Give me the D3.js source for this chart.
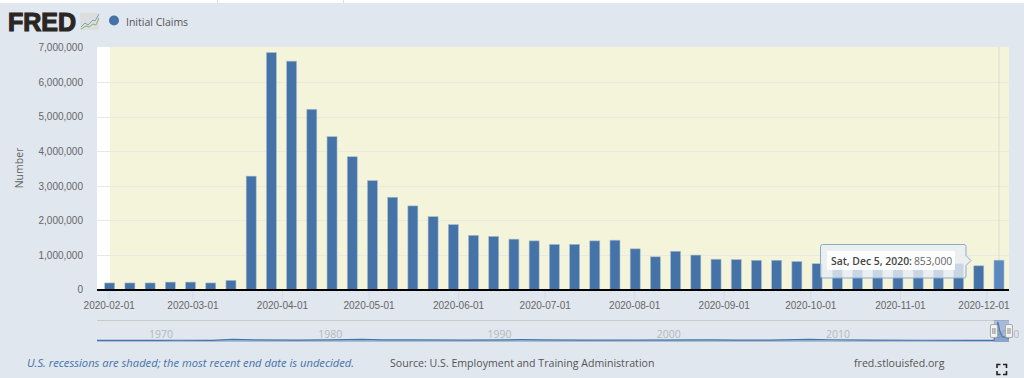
<!DOCTYPE html>
<html>
<head>
<meta charset="utf-8">
<script src="https://cdn.jsdelivr.net/npm/d3@7"></script>
<style>
  html, body { margin: 0; padding: 0; background: #e0e7ef; }
  svg { display: block; font-family: "Open Sans", sans-serif; }
</style>
</head>
<body>
<svg id="grafica" width="1024" height="378"></svg>
<script>
// semanas desde 2020-02-01 hasta 2020-12-05
firstWeek = new Date(Date.UTC(2020, 1, 1))
lastWeek = new Date(Date.UTC(2020, 11, 5))
claims = [
  195000, 195000, 195000, 220000, 220000, 195000, 270000, 3280000, 6850000,
  6600000, 5210000, 4420000, 3840000, 3150000, 2670000, 2420000, 2110000,
  1880000, 1570000, 1540000, 1460000, 1410000, 1310000, 1310000, 1410000,
  1430000, 1180000, 950000, 1110000, 1000000, 880000, 870000, 850000,
  850000, 815000, 750000, 770000, 760000, 765000, 750000, 755000, 725000,
  750000, 690000, 853000
]
yTicks = [0, 1000000, 2000000, 3000000, 4000000, 5000000, 6000000, 7000000]

// navegador: años según la posición en el dibujo, valores aproximados
navYears = [
  1966.22, 1968, 1969.8, 1971, 1973, 1974.25, 1975.5, 1978, 1980, 1981.9,
  1983, 1985, 1988, 1991.2, 1992.5, 1995, 1998, 2002.4, 2004, 2006, 2008.3,
  2009.5, 2012, 2015, 2018, 2019.21, 2019.45, 2019.55, 2019.7, 2019.85, 2020.1
]
navClaims = [
  210000, 200000, 230000, 270000, 240000, 560000, 400000, 340000, 430000,
  610000, 440000, 390000, 310000, 460000, 400000, 340000, 310000, 420000,
  340000, 320000, 600000, 450000, 350000, 270000, 215000, 200000, 6850000,
  3800000, 1550000, 1400000, 853000
]
navLabels = [1970, 1980, 1990, 2000, 2010, 2020]
navSelection = [2019.21, 2020.1]

plot = { left: 97, right: 1009, top: 47, bottom: 290, shadeLeft: 110 }
nav = { top: 320, bottom: 342 }
barWidth = 10

svg = d3.select('#grafica')
weeks = d3.utcSaturday.range(firstWeek, d3.utcDay.offset(lastWeek, 1))
data = weeks.map(function (d, i) { return { date: d, value: claims[i] } })

x = d3.scaleUtc().domain([firstWeek, lastWeek]).range([109.7, 999])
y = d3.scaleLinear().domain([0, 7000000]).range([plot.bottom - 0.3, plot.top + 0.3])
xNav = d3.scaleLinear().domain([1966.22, 2020.1]).range([plot.left, plot.right])
yNav = d3.scaleLinear().domain([0, 6850000]).range([nav.bottom - 1, nav.top + 2])

// franja blanca superior de la página
svg.append('rect').attr('width', 1024).attr('height', 3).attr('fill', '#fff')
svg.append('line').attr('x1', 217.5).attr('x2', 217.5).attr('y1', 0).attr('y2', 3).attr('stroke', '#ddd')
svg.append('line').attr('x1', 343.5).attr('x2', 343.5).attr('y1', 0).attr('y2', 3).attr('stroke', '#ddd')

// logo
logo = svg.append('g').attr('class', 'logo')
logo.append('text').attr('x', 8).attr('y', 30.5)
  .attr('textLength', 68).attr('lengthAdjust', 'spacingAndGlyphs')
  .style('font-family', '"Liberation Sans"').style('font-size', '25.5px')
  .style('font-weight', 700).style('stroke', '#2a2624').style('stroke-width', 1.2)
  .attr('fill', '#2a2624').text('FRED')
logo.append('rect').attr('x', 80).attr('y', 13).attr('width', 19).attr('height', 17)
  .attr('rx', 1).attr('fill', '#dcdedd')
logo.append('path').attr('d', 'M81 27 L85 23 L88 25 L93 20 L95 21 L99 14')
  .attr('fill', 'none').attr('stroke', '#7f9fc0').attr('stroke-width', 1)
logo.append('path').attr('d', 'M81 29 L86 26 L89 27 L93 24 L96 25 L99 18')
  .attr('fill', 'none').attr('stroke', '#8db36a').attr('stroke-width', 1)

// leyenda
svg.append('circle').attr('cx', 114).attr('cy', 20.5).attr('r', 5).attr('fill', '#4572a7')
svg.append('text').attr('x', 126).attr('y', 25.5)
  .attr('fill', '#555').style('font-size', '10.5px').text('Initial Claims')

// fondo del gráfico
svg.append('rect')
  .attr('x', plot.left).attr('y', plot.top)
  .attr('width', plot.right - plot.left).attr('height', plot.bottom - plot.top)
  .attr('fill', '#fff')
svg.append('rect')
  .attr('x', plot.shadeLeft).attr('y', plot.top)
  .attr('width', plot.right - plot.shadeLeft).attr('height', plot.bottom - plot.top)
  .attr('fill', '#f4f4da')

// eje y con rejilla
yAxis = svg.append('g')
  .attr('transform', 'translate(' + plot.left + ',0)')
  .call(d3.axisLeft(y).tickValues(yTicks).tickFormat(d3.format(',')).tickSize(0).tickPadding(14))
yAxis.select('.domain').remove()
yAxis.selectAll('text').attr('fill', '#666').style('font-size', '10px')
svg.append('g').selectAll('line.grid')
  .data(yTicks.slice(1, -1))
  .enter()
  .append('line')
  .attr('class', 'grid')
  .attr('x1', plot.left).attr('x2', plot.right)
  .attr('y1', function (d) { return Math.round(y(d)) + 0.5 })
  .attr('y2', function (d) { return Math.round(y(d)) + 0.5 })
  .attr('stroke', '#e9e9e2')

svg.append('text')
  .attr('transform', 'translate(23,168) rotate(-90)')
  .attr('text-anchor', 'middle').attr('fill', '#666')
  .style('font-size', '10.5px').text('Number')

// línea vertical del tooltip
svg.append('line')
  .attr('x1', x(lastWeek)).attr('x2', x(lastWeek))
  .attr('y1', plot.top).attr('y2', plot.bottom)
  .attr('stroke', '#dcdcd0')

// barras
svg.append('g').selectAll('rect.bar')
  .data(data)
  .enter()
  .append('rect')
  .attr('class', 'bar')
  .attr('x', function (d) { return x(d.date) - barWidth / 2 })
  .attr('width', barWidth)
  .attr('y', function (d) { return y(d.value) })
  .attr('height', function (d) { return y(0) - y(d.value) })
  .attr('fill', function (d, i) { return i == data.length - 1 ? '#5b88bd' : '#4572a7' })
  .attr('stroke', '#a9bfd2').attr('stroke-width', 0.6)

// eje x
months = d3.utcMonth.range(firstWeek, lastWeek)
xAxis = svg.append('g')
  .attr('transform', 'translate(-1,' + plot.bottom + ')')
  .call(d3.axisBottom(x).tickValues(months).tickFormat(d3.utcFormat('%Y-%m-%d')).tickSize(10).tickPadding(2))
xAxis.select('.domain').remove()
xAxis.selectAll('line').attr('stroke', '#cfdbe8')
xAxis.selectAll('text').attr('fill', '#666').style('font-size', '10px')
xAxis.selectAll('text').filter(function (d, i) { return i == months.length - 1 })
  .attr('dx', -3)

svg.append('line')
  .attr('x1', plot.left).attr('x2', plot.right)
  .attr('y1', plot.bottom).attr('y2', plot.bottom)
  .attr('stroke', '#000').attr('stroke-width', 2)

// tooltip
tipX = 820.5
tipY = 244.5
tip = svg.append('g')
tip.append('path')
  .attr('d', 'M' + (tipX + 2) + ' ' + tipY + ' H964 Q966 244.5 966 246.5 V255.5 L971 260.5 L966 265.5 V276 Q966 278 964 278 H' + (tipX + 2) +
    ' Q' + tipX + ' 278 ' + tipX + ' 276 V246.5 Q' + tipX + ' ' + tipY + ' ' + (tipX + 2) + ' ' + tipY + ' Z')
  .attr('fill', 'rgba(232,238,245,0.8)')
  .attr('stroke', '#8aaccb').attr('stroke-width', 1)
tip.append('rect').attr('x', 827).attr('y', 251).attr('width', 128).attr('height', 19)
  .attr('fill', '#fff').attr('fill-opacity', 0.9)
tipText = tip.append('text').attr('x', 831).attr('y', 264.5).style('font-size', '10.4px')
tipText.append('tspan').attr('fill', '#444').style('font-weight', 600).text('Sat, Dec 5, 2020:')
tipText.append('tspan').attr('fill', '#666').attr('dx', 2).text(d3.format(',')(claims[claims.length - 1]))

// navegador
svg.append('line')
  .attr('x1', plot.left).attr('x2', plot.right)
  .attr('y1', nav.top + 0.5).attr('y2', nav.top + 0.5)
  .attr('stroke', '#c8cbcc')
navG = svg.append('g')
navG.selectAll('text')
  .data(navLabels)
  .enter()
  .append('text')
  .attr('x', function (d) { return xNav(d) })
  .attr('y', 338)
  .attr('text-anchor', 'middle')
  .attr('fill', '#b4b8bb')
  .style('font-size', '10.5px')
  .text(function (d) { return d })

navPoints = navYears.map(function (d, i) { return [d, navClaims[i]] })
navG.append('path')
  .attr('d', d3.area()
    .x(function (d) { return xNav(d[0]) })
    .y0(nav.bottom)
    .y1(function (d) { return yNav(d[1]) })(navPoints))
  .attr('fill', '#4572a7').attr('fill-opacity', 0.35)
navG.append('path')
  .attr('d', d3.line()
    .x(function (d) { return xNav(d[0]) })
    .y(function (d) { return yNav(d[1]) })(navPoints))
  .attr('fill', 'none').attr('stroke', '#4572a7').attr('stroke-width', 1.2)

svg.append('rect')
  .attr('x', xNav(navSelection[0])).attr('y', nav.top)
  .attr('width', xNav(navSelection[1]) - xNav(navSelection[0]))
  .attr('height', nav.bottom - nav.top)
  .attr('fill', '#6685c2').attr('fill-opacity', 0.45)

handles = svg.append('g').selectAll('g')
  .data(navSelection)
  .enter()
  .append('g')
  .attr('transform', function (d) { return 'translate(' + xNav(d) + ',331)' })
handles.append('rect')
  .attr('x', -3.5).attr('y', -6.5).attr('width', 7).attr('height', 13).attr('rx', 1.5)
  .attr('fill', '#f2f2f2').attr('stroke', '#a8a8a8')
handles.selectAll('line')
  .data([-1, 1])
  .enter()
  .append('line')
  .attr('x1', function (d) { return d }).attr('x2', function (d) { return d })
  .attr('y1', -3).attr('y2', 3)
  .attr('stroke', '#888')

// pie
svg.append('text').attr('x', 27).attr('y', 367)
  .attr('fill', '#4572a7').style('font-size', '11.2px').style('font-style', 'italic')
  .text('U.S. recessions are shaded; the most recent end date is undecided.')
svg.append('text').attr('x', 390).attr('y', 367)
  .attr('fill', '#555').style('font-size', '10.6px')
  .text('Source: U.S. Employment and Training Administration')
svg.append('text').attr('x', 854).attr('y', 367)
  .attr('fill', '#555').style('font-size', '10.6px')
  .text('fred.stlouisfed.org')

// icono pantalla completa
svg.append('path')
  .attr('d', 'M997 368 V364.5 H1000.5 M1003 364.5 H1006.5 V368 M1006.5 371 V374.5 H1003 M1000.5 374.5 H997 V371')
  .attr('fill', 'none').attr('stroke', '#222').attr('stroke-width', 1.6)
</script>
</body>
</html>
